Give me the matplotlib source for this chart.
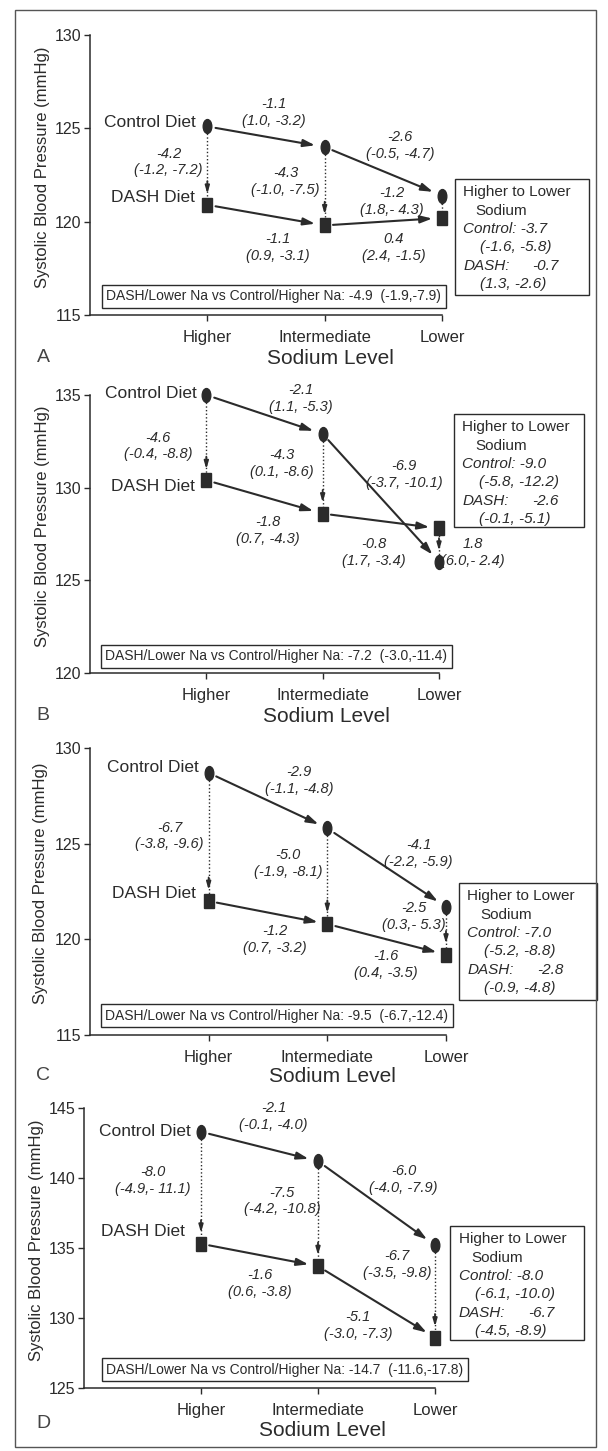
"""DASH-Sodium: systolic BP by sodium level, control vs DASH diet (4 panels)."""
import matplotlib
matplotlib.use("Agg")
import matplotlib.pyplot as plt  # noqa: E402
from matplotlib import font_manager  # noqa: E402
from matplotlib.markers import MarkerStyle  # noqa: E402
from matplotlib.patches import Rectangle  # noqa: E402
from matplotlib.transforms import Affine2D  # noqa: E402

SODIUM = ["Higher", "Intermediate", "Lower"]
PANELS = ["A", "B", "C", "D"]

# mean systolic BP (mmHg) at higher / intermediate / lower sodium
control_a = [125.1, 124.0, 121.4]
dash_a = [120.9, 119.8, 120.2]
control_b = [135.0, 132.9, 126.0]
dash_b = [130.4, 128.6, 127.8]
control_c = [128.7, 125.8, 121.7]
dash_c = [122.0, 120.8, 119.2]
control_d = [143.3, 141.2, 135.2]
dash_d = [135.3, 133.7, 128.6]

# step changes along each diet line, and DASH-minus-control at each level
ctrl_steps_a = ["-1.1\n(1.0, -3.2)", "-2.6\n(-0.5, -4.7)"]
dash_steps_a = ["-1.1\n(0.9, -3.1)", "0.4\n(2.4, -1.5)"]
diet_diff_a = ["-4.2\n(-1.2, -7.2)", "-4.3\n(-1.0, -7.5)", "-1.2\n(1.8,- 4.3)"]
ctrl_steps_b = ["-2.1\n(1.1, -5.3)", "-6.9\n(-3.7, -10.1)"]
dash_steps_b = ["-1.8\n(0.7, -4.3)", "-0.8\n(1.7, -3.4)"]
diet_diff_b = ["-4.6\n(-0.4, -8.8)", "-4.3\n(0.1, -8.6)", "1.8\n(6.0,- 2.4)"]
ctrl_steps_c = ["-2.9\n(-1.1, -4.8)", "-4.1\n(-2.2, -5.9)"]
dash_steps_c = ["-1.2\n(0.7, -3.2)", "-1.6\n(0.4, -3.5)"]
diet_diff_c = ["-6.7\n(-3.8, -9.6)", "-5.0\n(-1.9, -8.1)", "-2.5\n(0.3,- 5.3)"]
ctrl_steps_d = ["-2.1\n(-0.1, -4.0)", "-6.0\n(-4.0, -7.9)"]
dash_steps_d = ["-1.6\n(0.6, -3.8)", "-5.1\n(-3.0, -7.3)"]
diet_diff_d = ["-8.0\n(-4.9,- 11.1)", "-7.5\n(-4.2, -10.8)", "-6.7\n(-3.5, -9.8)"]

# DASH/lower Na vs control/higher Na
overall = ["-4.9  (-1.9,-7.9)", "-7.2  (-3.0,-11.4)",
           "-9.5  (-6.7,-12.4)", "-14.7  (-11.6,-17.8)"]
# higher -> lower sodium within each diet
h2l_control = [("-3.7", "(-1.6, -5.8)"), ("-9.0", "(-5.8, -12.2)"),
               ("-7.0", "(-5.2, -8.8)"), ("-8.0", "(-6.1, -10.0)")]
h2l_dash = [("-0.7", "(1.3, -2.6)"), ("-2.6", "(-0.1, -5.1)"),
            ("-2.8", "(-0.9, -4.8)"), ("-6.7", "(-4.5, -8.9)")]

YLIMS = [(115, 130), (120, 135), (115, 130), (125, 145)]

# ---- layout (pixels of a 608x1451 page, and label spots in data units) ----
W, H = 608, 1451
AX_PX = [(90, 442, 35, 315), (90, 439, 395, 673),
         (90, 446, 748, 1035), (84, 435, 1108, 1388)]
YLABEL_X = [42, 42, 41, 37]
XLABEL_PX = [(330, 358), (326, 717), (332, 1077), (322, 1430)]
LETTER_PX = [(43, 358), (43, 715), (43, 1075), (43, 1423)]
LAYOUT = [
    dict(ctrl=[(1.57, 125.85), (2.64, 124.1)], dash=[(1.6, 118.6), (2.59, 118.6)],
         diff=[(0.96, 123.2, "right"), (1.96, 122.15, "right"), (2.57, 121.1, "center")],
         ctrl_lbl=(0.90, 125.3), dash_lbl=(0.89, 121.3), overall=(0.14, 116.0),
         box=(3.11, 4.25, 122.28, 116.07)),
    dict(ctrl=[(1.81, 134.8), (2.70, 130.7)], dash=[(1.53, 127.7), (2.44, 126.5)],
         diff=[(0.88, 132.25, "right"), (1.92, 131.3, "right"), (3.02, 126.5, "left")],
         ctrl_lbl=(0.92, 135.1), dash_lbl=(0.90, 130.05), overall=(0.13, 120.9),
         box=(3.13, 4.25, 133.97, 127.9)),
    dict(ctrl=[(1.76, 128.3), (2.77, 124.5)], dash=[(1.56, 120.0), (2.49, 118.7)],
         diff=[(0.96, 125.4, "right"), (1.96, 123.95, "right"), (3.0, 121.2, "right")],
         ctrl_lbl=(0.92, 129.0), dash_lbl=(0.89, 122.4), overall=(0.13, 116.0),
         box=(3.11, 4.27, 122.94, 116.83)),
    dict(ctrl=[(1.62, 144.4), (2.73, 139.9)], dash=[(1.50, 132.45), (2.34, 129.45)],
         diff=[(0.91, 139.8, "right"), (2.02, 138.35, "right"), (2.97, 133.8, "right")],
         ctrl_lbl=(0.91, 143.3), dash_lbl=(0.86, 136.2), overall=(0.19, 126.3),
         box=(3.13, 4.27, 136.55, 128.45)),
]

INK = "#2b2b2b"
names = {f.name for f in font_manager.fontManager.ttflist}
NARROW = "Liberation Sans Narrow" if "Liberation Sans Narrow" in names else "Liberation Sans"
plt.rcParams["font.family"] = ["Liberation Sans", "DejaVu Sans"]
plt.rcParams["text.color"] = INK

ELLIPSE = MarkerStyle("o", transform=Affine2D().scale(0.62, 1.0))
BLOCK = MarkerStyle("s", transform=Affine2D().scale(0.7, 1.0))


def fx(px):
    return px / W


def fy(py):
    return 1 - py / H


def step_arrow(ax, p0, p1):
    ax.annotate("", xy=p1, xytext=p0,
                arrowprops=dict(arrowstyle="-|>,head_length=0.7,head_width=0.22",
                                color=INK, lw=1.5, shrinkA=6, shrinkB=7))


def diet_arrow(ax, x, upper, lower):
    ax.plot([x, x], [upper, lower], ls=(0, (1, 1.6)), lw=1.0, color=INK,
            clip_on=False, zorder=2)
    ax.annotate("", xy=(x, lower), xytext=(0, 17), textcoords="offset points",
                arrowprops=dict(arrowstyle="-|>,head_length=0.45,head_width=0.13",
                                color=INK, lw=1.3, shrinkA=0, shrinkB=8))


def draw_panel(fig, k, control, dash, ctrl_steps, dash_steps, diffs):
    l, r, t, b = AX_PX[k]
    lay = LAYOUT[k]
    ax = fig.add_axes([fx(l), fy(b), fx(r - l), (b - t) / H])
    xs = [1, 2, 3]
    ax.set_xlim(0, 3)
    ax.set_ylim(*YLIMS[k])
    lo, hi = YLIMS[k]
    ax.set_yticks(range(lo, hi + 1, 5))
    ax.set_xticks(xs)
    ax.set_xticklabels(SODIUM, fontsize=12)
    for lab in ax.get_yticklabels():
        lab.set_fontfamily(NARROW)
        lab.set_fontsize(11.5)
    ax.tick_params(axis="both", direction="out", length=4, width=1, color=INK,
                   labelcolor=INK)
    ax.tick_params(axis="x", pad=7)
    ax.tick_params(axis="y", pad=2)
    for s in ("top", "right"):
        ax.spines[s].set_visible(False)
    for s in ("left", "bottom"):
        ax.spines[s].set_color(INK)
        ax.spines[s].set_linewidth(1.1)

    for i in range(2):
        step_arrow(ax, (xs[i], control[i]), (xs[i + 1], control[i + 1]))
        step_arrow(ax, (xs[i], dash[i]), (xs[i + 1], dash[i + 1]))
    for i in range(3):
        diet_arrow(ax, xs[i], max(control[i], dash[i]), min(control[i], dash[i]))

    ax.plot(xs, control, ls="none", marker=ELLIPSE, ms=10, color=INK,
            clip_on=False, zorder=4)
    ax.plot(xs, dash, ls="none", marker=BLOCK, ms=10, color=INK,
            clip_on=False, zorder=4)

    it = dict(fontsize=10.5, fontstyle="italic", va="center",
              multialignment="center", linespacing=1.25)
    for s, (x, y) in zip(ctrl_steps, lay["ctrl"]):
        ax.text(x, y, s, ha="center", **it)
    for s, (x, y) in zip(dash_steps, lay["dash"]):
        ax.text(x, y, s, ha="center", **it)
    for s, (x, y, ha) in zip(diffs, lay["diff"]):
        ax.text(x, y, s, ha=ha, **it)

    ax.text(*lay["ctrl_lbl"], "Control Diet", ha="right", va="center", fontsize=12.5)
    ax.text(*lay["dash_lbl"], "DASH Diet", ha="right", va="center", fontsize=12.5)

    ax.text(*lay["overall"], "DASH/Lower Na vs Control/Higher Na: " + overall[k],
            ha="left", va="center", fontsize=10,
            bbox=dict(boxstyle="square,pad=0.32", fc="white", ec=INK, lw=1.0))

    x0, x1, y_top, y_bot = lay["box"]
    ax.add_patch(Rectangle((x0, y_bot), x1 - x0, y_top - y_bot, fill=False,
                           ec=INK, lw=1.0, clip_on=False))
    c_val, c_ci = h2l_control[k]
    d_val, d_ci = h2l_dash[k]
    rows = [("Higher to Lower", 6, "normal"), ("Sodium", 15, "normal"),
            ("Control: " + c_val, 6, "italic"), (c_ci, 18, "italic"),
            ("DASH:", 6, "italic"), (d_ci, 18, "italic")]
    for j, (s, dx, style) in enumerate(rows):
        ax.annotate(s, xy=(x0, y_top), xytext=(dx, -9.5 - 13.2 * j),
                    textcoords="offset points", ha="left", va="center",
                    fontsize=11, fontstyle=style, annotation_clip=False)
    ax.annotate(d_val, xy=(x0, y_top), xytext=(56, -9.5 - 13.2 * 4),
                textcoords="offset points", ha="left", va="center",
                fontsize=11, fontstyle="italic", annotation_clip=False)

    fig.text(fx(YLABEL_X[k]), fy((t + b) / 2 - 8), "Systolic Blood Pressure (mmHg)",
             rotation=90, ha="center", va="center", fontsize=12)
    fig.text(fx(XLABEL_PX[k][0]), fy(XLABEL_PX[k][1]), "Sodium Level",
             ha="center", va="center", fontsize=15)
    fig.text(fx(LETTER_PX[k][0]), fy(LETTER_PX[k][1]), PANELS[k],
             ha="center", va="center", fontsize=14, color="#444444")
    return ax


def main():
    fig = plt.figure(figsize=(W / 100, H / 100), dpi=100)
    fig.patches.append(Rectangle((fx(15), fy(1447)), fx(596 - 15), (1447 - 10) / H,
                                 transform=fig.transFigure, fill=False,
                                 ec="#555555", lw=1.0))
    draw_panel(fig, 0, control_a, dash_a, ctrl_steps_a, dash_steps_a, diet_diff_a)
    draw_panel(fig, 1, control_b, dash_b, ctrl_steps_b, dash_steps_b, diet_diff_b)
    draw_panel(fig, 2, control_c, dash_c, ctrl_steps_c, dash_steps_c, diet_diff_c)
    draw_panel(fig, 3, control_d, dash_d, ctrl_steps_d, dash_steps_d, diet_diff_d)
    fig.savefig("out.png", dpi=100)


if __name__ == "__main__":
    main()
